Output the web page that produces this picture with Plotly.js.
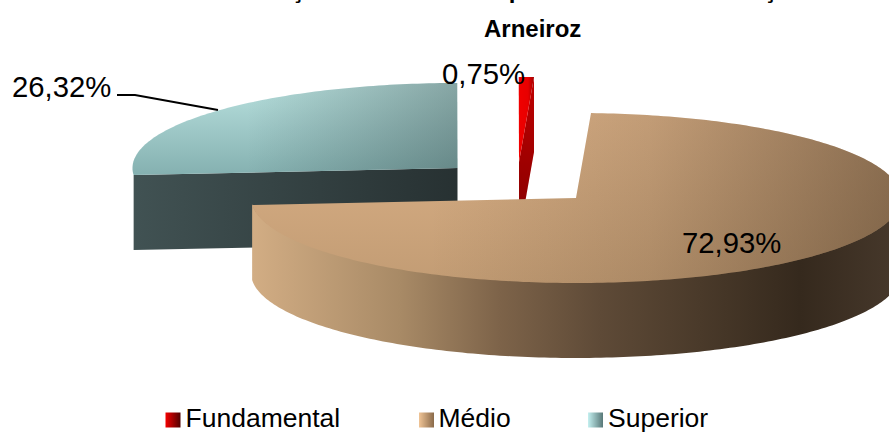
<!DOCTYPE html>
<html><head><meta charset="utf-8"><script src="https://cdn.plot.ly/plotly-3.0.1.min.js"></script>
<style>html,body{margin:0;padding:0;background:#fff}#c{width:889px;height:432px}</style></head><body><div id="c"></div>
<script>
const categories=["Fundamental","Médio","Superior"];
const values=[0.75,72.93,26.32];
const titleLines=["Formação dos Discentes pelos Níveis de Formação em","Arneiroz"];
const startAngle=2.65;
const RX=325, RY=85, DEPTH=75;
const centres={Fundamental:[519,162],"Médio":[576,198],Superior:[457.5,168]};
const sweeps=values.map(v=>v*3.6);
const a1=startAngle, a2=a1+sweeps[1], a3=a2+sweeps[2], a4=a3+sweeps[0];
const rad=d=>d*Math.PI/180;
function pt(c,a,dy=0){return [c[0]+RX*Math.sin(rad(a)),c[1]-RY*Math.cos(rad(a))+dy];}
function arc(c,a,b,dy=0){const o=[];const n=Math.max(2,Math.ceil(Math.abs(b-a)));for(let i=0;i<=n;i++)o.push(pt(c,a+(b-a)*i/n,dy));return o;}
function poly(points,color,grad){
  const p=points.concat([points[0]]);
  const t={type:"scatter",mode:"none",x:p.map(q=>q[0]),y:p.map(q=>q[1]),fill:"toself",fillcolor:color,hoverinfo:"skip",showlegend:false};
  if(grad)t.fillgradient=grad;
  return t;
}
function hg(start,stop,cs){return {type:"horizontal",start:start,stop:stop,colorscale:cs};}
function vg(start,stop,cs){return {type:"vertical",start:start,stop:stop,colorscale:cs};}
const cM=centres["Médio"],cS=centres.Superior,cF=centres.Fundamental;
const traces=[];
const sL=pt(cS,a2);
traces.push(poly([sL,cS,[cS[0],cS[1]+DEPTH],[sL[0],sL[1]+DEPTH]],"#384848",hg(134,457,[[0,"#415253"],[1,"#273132"]])));
const sTop=[cS].concat(arc(cS,a2,a3));
traces.push(poly(sTop,"#9cc",vg(84,176,[[0,"#b8e0de"],[1,"#84b0b0"]])));
traces.push(poly(sTop,"rgba(42,58,58,0.2)",hg(134,457,[[0,"rgba(42,58,58,0)"],[0.35,"rgba(42,58,58,0)"],[1,"rgba(42,58,58,0.35)"]])));
const fB=pt(cF,a4);
traces.push(poly([fB,[fB[0],fB[1]+DEPTH],[cF[0],cF[1]+DEPTH],cF],"#900",vg(78,240,[[0,"#c00000"],[0.5,"#a00000"],[1,"#800000"]])));
traces.push(poly([cF].concat(arc(cF,a3,a4)),"#e00",hg(519,534,[[0,"#f00000"],[0.6,"#e80000"],[1,"#a00000"]])));
const wall=arc(cM,90,a2,-1).concat(arc(cM,a2,90,DEPTH));
const x0=252,x1=889,f=x=>(x-x0)/(x1-x0);
traces.push(poly(wall,"#7a6048",hg(x0,x1,[[0,"#d2ad84"],[f(400),"#a88a66"],[f(500),"#7d6349"],[f(600),"#5e4a37"],[f(700),"#4a3a2a"],[f(800),"#35291d"],[1,"#45372a"]])));
const mTop=[cM].concat(arc(cM,a1,a2));
traces.push(poly(mTop,"#d8b088",vg(112,284,[[0,"#dcb288"],[1,"#c29c74"]])));
const g=x=>(x-430)/(901-430);
traces.push(poly(mTop,"rgba(58,42,26,0.2)",hg(430,901,[[0,"rgba(58,42,26,0)"],[g(650),"rgba(58,42,26,0.16)"],[1,"rgba(58,42,26,0.5)"]])));
traces.push({type:"scatter",mode:"lines",x:[117,135,218],y:[95,95,110],line:{color:"#000",width:2},hoverinfo:"skip",showlegend:false});
const legendStart=["#f40000","#f0c496","#c4f0f0"];
const legendEnd=["#500000","#8a6a4a","#587878"];
const legendMarkerX=[173,426.5,595.5];
const legendTextX=[185.5,438.5,608];
const legendY=[420,420,420];
traces.push({type:"scatter",mode:"markers",x:legendMarkerX,y:legendY,hoverinfo:"skip",showlegend:false,cliponaxis:false,
  marker:{symbol:"square",size:15,color:legendStart,line:{width:0},gradient:{type:"horizontal",color:legendEnd}}});
traces.push({type:"scatter",mode:"text",x:legendTextX,y:legendY,text:categories,textposition:"middle right",
  textfont:{size:26.5,color:"#000"},hoverinfo:"skip",showlegend:false,cliponaxis:false});
const lay={width:889,height:432,margin:{l:0,r:0,t:0,b:0,autoexpand:false},paper_bgcolor:"#fff",plot_bgcolor:"#fff",
 font:{family:"Liberation Sans, Arial, sans-serif",color:"#000"},
 title:{text:titleLines[0],font:{size:24,family:"Liberation Sans, Arial, sans-serif",weight:"bold",color:"#000"},x:532/889,xanchor:"center",xref:"container",yref:"container",y:1,yanchor:"bottom",pad:{b:2}},
 xaxis:{range:[0,889],visible:false,fixedrange:true},
 yaxis:{range:[432,0],visible:false,fixedrange:true},
 showlegend:false,annotations:[
  {x:532,y:28,xref:"x",yref:"y",xanchor:"center",yanchor:"middle",showarrow:false,text:titleLines[1],font:{size:24,weight:"bold",color:"#000"}}
 ]};
const fmt=v=>v.toFixed(2).replace(".",",")+"%";
const labelPos={Fundamental:[440,73],"Médio":[680,242],Superior:[10,86]};
categories.forEach((c,i)=>lay.annotations.push({x:labelPos[c][0],y:labelPos[c][1],xref:"x",yref:"y",xanchor:"left",yanchor:"middle",showarrow:false,text:fmt(values[i]),font:{size:29.3,color:"#000"}}));
Plotly.newPlot("c",traces,lay,{displayModeBar:false,staticPlot:true});
</script></body></html>
